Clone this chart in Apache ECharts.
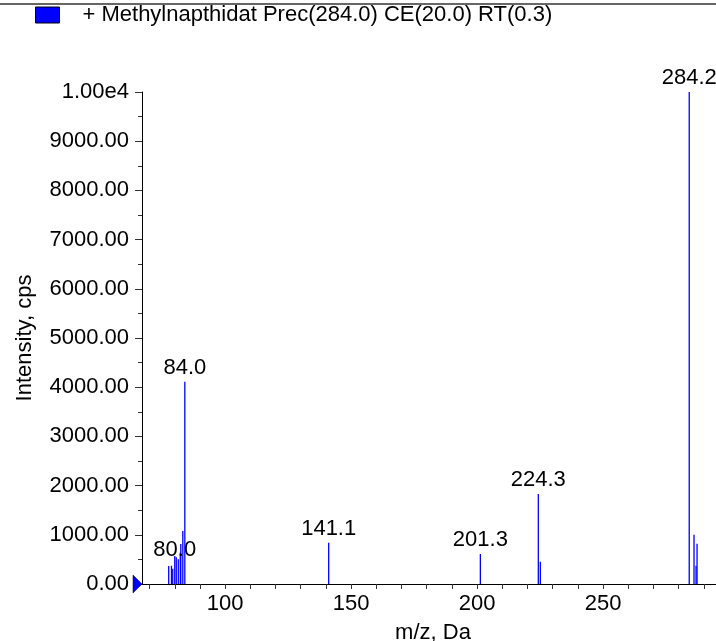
<!DOCTYPE html>
<html>
<head>
<meta charset="utf-8">
<script src="https://cdn.jsdelivr.net/npm/echarts@6/dist/echarts.min.js"></script>
<style>
  html, body { margin: 0; padding: 0; background: #fff; overflow: hidden; }
  #chart { width: 716px; height: 641px; }
</style>
</head>
<body>
<div id="chart"></div>
<script>
// ---- data ----
const seriesName = '+ Methylnapthidat Prec(284.0) CE(20.0) RT(0.3)';
const stickMz = [77.6, 78.7, 79.2, 80.0, 80.6, 81.4, 82.2, 82.4, 83.2, 84.0,
                 141.1, 201.3, 224.3, 225.1, 284.2, 286.1, 286.9, 287.3];
const stickIntensity = [366, 372, 311, 569, 542, 502, 636, 813, 1077, 4112,
                        839, 610, 1829, 453, 10000, 1002, 372, 819];
const peakLabels = [80.0, 84.0, 141.1, 201.3, 224.3, 284.2];
const yTicks = [0, 1000, 2000, 3000, 4000, 5000, 6000, 7000, 8000, 9000, 10000];
const xLabelTicks = [100, 150, 200, 250];
const xMinorTicks = [70, 80, 90, 100, 110, 120, 130, 140, 150, 160, 170, 180, 190, 200,
                     210, 220, 230, 240, 250, 260, 270, 280, 290];
const xMin = 67, xMax = 298;

const FONT = 'Liberation Sans, Arial, sans-serif';
const BLUE = '#0000ff';
const INK = '#000';

const sticks = stickMz.map((m, i) => [m, stickIntensity[i]]);
const labelPts = peakLabels.map(m => {
  const i = stickMz.indexOf(m);
  const item = { value: [m, stickIntensity[i]] };
  if (m === 80.0) item.label = { offset: [0, 8] };
  return item;
});

const chart = echarts.init(document.getElementById('chart'), null, { renderer: 'canvas' });
chart.setOption({
  animation: false,
  backgroundColor: '#fff',
  textStyle: { fontFamily: FONT },
  grid: { left: 142, top: 92, width: 582, height: 492, containLabel: false, outerBoundsMode: 'none' },
  legend: {
    left: 35, top: 4, padding: 0,
    itemWidth: 24, itemHeight: 16,
    selectedMode: false,
    textStyle: { fontFamily: FONT, fontSize: 22, color: INK, padding: [0, 0, 0, 18] },
    data: [{ name: seriesName, icon: 'rect',
             itemStyle: { color: BLUE, borderColor: '#000', borderWidth: 1 } }]
  },
  graphic: [{
    type: 'line', shape: { x1: 0, y1: 4, x2: 716, y2: 4 },
    style: { stroke: '#333', lineWidth: 1.5 }, silent: true, z: 10
  }],
  xAxis: {
    type: 'value', min: xMin, max: xMax,
    name: 'm/z, Da', nameLocation: 'middle', nameGap: 38,
    nameTextStyle: { fontFamily: FONT, fontSize: 22, color: INK },
    axisLine: { show: true, onZero: false, lineStyle: { color: '#000', width: 1 } },
    axisTick: { show: true, customValues: xMinorTicks, length: 5, lineStyle: { color: '#333' } },
    axisLabel: { show: true, customValues: xLabelTicks, margin: 9,
                 fontFamily: FONT, fontSize: 22, color: INK },
    splitLine: { show: false }
  },
  yAxis: {
    type: 'value', min: 0, max: 10000, interval: 1000,
    name: 'Intensity, cps', nameLocation: 'middle', nameGap: 106, nameRotate: 90,
    nameTextStyle: { fontFamily: FONT, fontSize: 22, color: INK },
    axisLine: { show: true, lineStyle: { color: '#000', width: 1 } },
    axisTick: { show: true, length: 7, lineStyle: { color: '#333' } },
    minorTick: { show: true, splitNumber: 2, length: 4, lineStyle: { color: '#333' } },
    axisLabel: {
      margin: 13, fontFamily: FONT, fontSize: 22, color: INK,
      formatter: v => (yTicks.indexOf(v) >= 0 ? (v === 10000 ? '1.00e4' : v.toFixed(2)) : '')
    },
    splitLine: { show: false }
  },
  series: [
    {
      name: seriesName,
      type: 'custom',
      data: sticks,
      itemStyle: { color: BLUE },
      encode: { x: 0, y: 1 },
      renderItem: (params, api) => {
        const base = api.coord([api.value(0), 0]);
        const top = api.coord([api.value(0), api.value(1)]);
        return {
          type: 'line',
          shape: { x1: base[0], y1: base[1], x2: top[0], y2: top[1] },
          style: { stroke: BLUE, lineWidth: 1.3 }
        };
      },
      z: 3
    },
    {
      name: 'labels',
      type: 'scatter',
      data: labelPts,
      symbolSize: 0,
      silent: true,
      itemStyle: { opacity: 1, color: BLUE },
      label: {
        show: true, position: 'top', distance: 3,
        fontFamily: FONT, fontSize: 22, color: INK, opacity: 1,
        formatter: p => p.value[0].toFixed(1)
      },
      z: 4
    },
    {
      name: 'precursor',
      type: 'scatter',
      data: [[xMin, 0]],
      symbol: 'triangle',
      symbolSize: [18, 9],
      symbolRotate: -90,
      symbolOffset: [-4.5, 0],
      clip: false,
      silent: true,
      itemStyle: { color: BLUE, opacity: 1, borderColor: '#000033', borderWidth: 0.5 },
      z: 5
    }
  ]
});
</script>
</body>
</html>
